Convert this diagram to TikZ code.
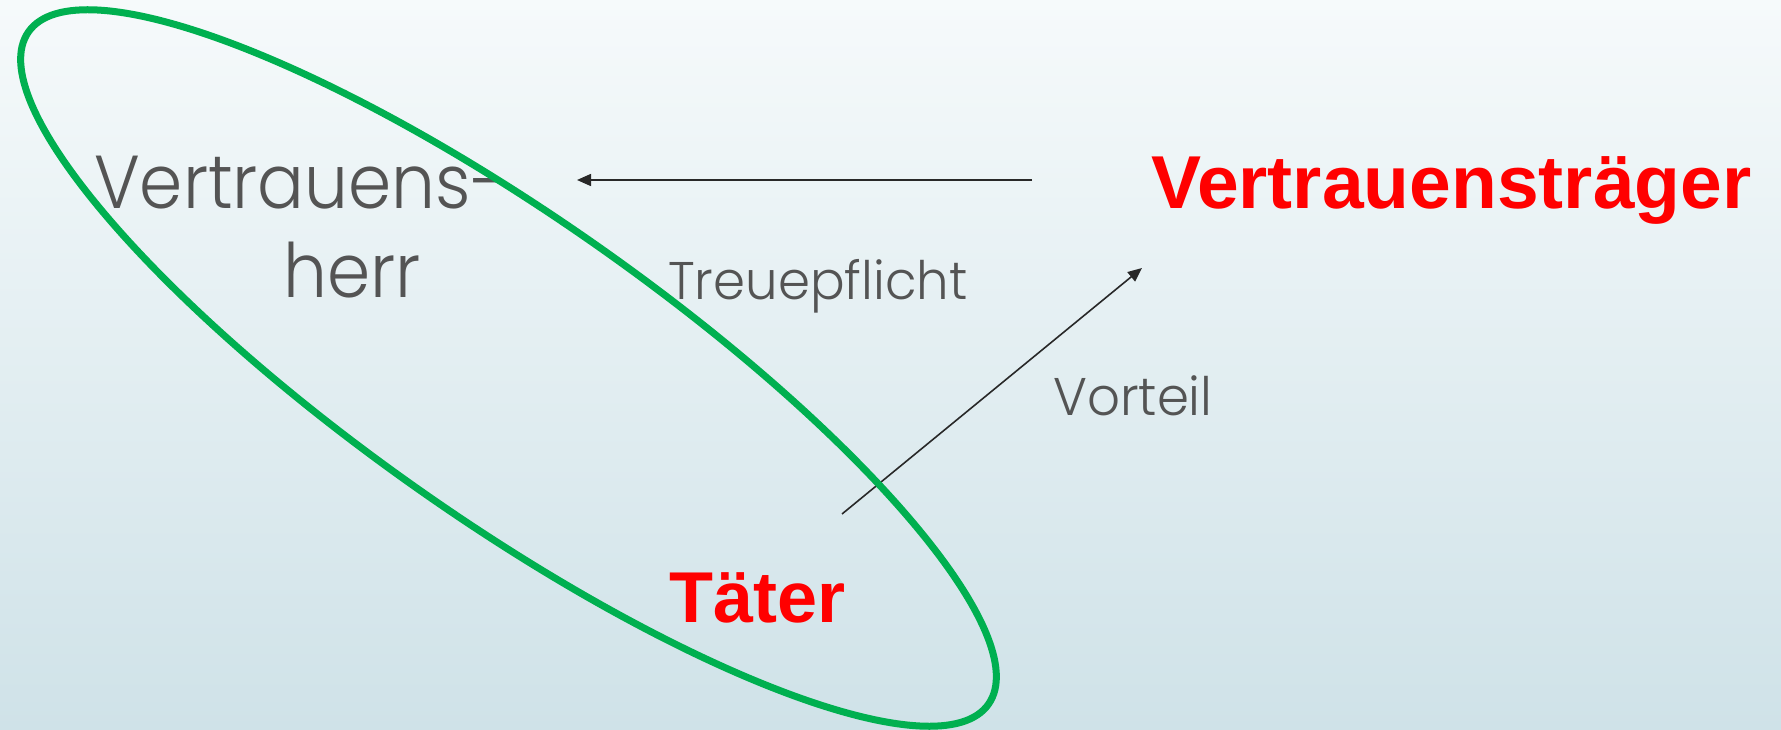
\documentclass[tikz,border=0pt]{standalone}
\usepackage{fontspec}
\usetikzlibrary{arrows.meta}
\setmainfont{Liberation Sans}
\newfontfamily\gothicbig{Poppins Light}[FakeStretch=0.925]
\newfontfamily\gothicsmall{Poppins Light}[FakeStretch=0.97]
\definecolor{bgtop}{RGB}{246,250,251}
\definecolor{bgbot}{RGB}{207,226,232}
\definecolor{ringgreen}{RGB}{0,176,80}
\definecolor{labelgray}{RGB}{84,84,84}
\definecolor{arrowgray}{RGB}{40,40,40}
\definecolor{keyred}{RGB}{255,0,0}
\tikzset{
  graytext/.style={text=labelgray, font=\gothicbig\fontsize{75}{90}\selectfont, inner sep=0pt, anchor=base west},
  smallgray/.style={text=labelgray, font=\gothicsmall\fontsize{53}{64}\selectfont, inner sep=0pt, anchor=base west},
  redtext/.style={text=keyred, font=\bfseries\fontsize{75}{90}\selectfont, inner sep=0pt, anchor=base west},
  ring/.style={draw=ringgreen, line width=7pt},
  link/.style={draw=arrowgray, line width=1.6pt, -{Triangle[length=14pt,width=12pt]}}
}
\begin{document}
\begin{tikzpicture}[x=1pt,y=1pt]
  % background
  \shade[top color=bgtop, bottom color=bgbot] (0,0) rectangle (1781,-730);
  \useasboundingbox (0,0) rectangle (1781,-730);

  % labels
  \node[graytext] (vh1) at (94,-209) {Vertrauens-};
  \node[graytext] (vh2) at (283,-298) {herr};
  \node[redtext] (vt) at (1151,-209) {Vertrauensträger};
  \node[redtext, font=\bfseries\fontsize{72}{86}\selectfont] (taeter) at (669,-622) {Täter};
  \node[smallgray] (treue) at (668,-299) {Treuepflicht};
  \node[smallgray] (vorteil) at (1053,-415) {Vorteil};

  % arrow end points
  \coordinate (tpStart) at (1032,-180);
  \coordinate (tpEnd) at (577,-180);
  \coordinate (vStart) at (842,-514);
  \coordinate (vEnd) at (1142,-268);

  \draw[link] (tpStart) -- (tpEnd);
  \draw[link] (vStart) -- (vEnd);

  % ring around Vertrauensherr and Täter
  \draw[ring, rotate around={-35:(508.5,-368)}] (508.5,-368) ellipse [x radius=586, y radius=151];
\end{tikzpicture}
\end{document}
